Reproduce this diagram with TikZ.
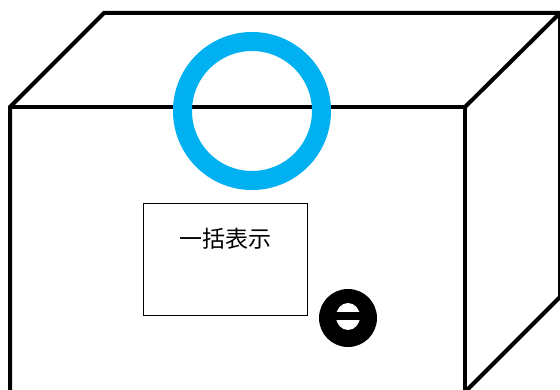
\documentclass[tikz,border=0pt]{standalone}
\usepackage{fontspec}
\newfontfamily\jpfont{Noto Sans CJK JP}
\definecolor{ringblue}{HTML}{00B0F0}
\begin{document}
\begin{tikzpicture}[x=1pt,y=-1pt,
  edge/.style={line width=4pt, line join=miter, draw=black},
  ring/.style={circle, draw=ringblue, line width=19pt, minimum size=139pt, inner sep=0pt},
  panel/.style={draw=black, line width=1pt, minimum width=164pt, minimum height=112pt, inner sep=0pt},
  caption/.style={font=\jpfont\fontsize{23}{28}\selectfont, inner sep=0pt},
  knob/.style={circle, fill=black, minimum size=58pt, inner sep=0pt}]
\useasboundingbox (0,0) rectangle (560,390);

% corners of the box (front face and back edges)
\coordinate (ftl) at (10,107);
\coordinate (ftr) at (465,107);
\coordinate (fbr) at (465,392);
\coordinate (fbl) at (10,392);
\coordinate (btl) at (104,13);
\coordinate (btr) at (560,13);
\coordinate (bbr) at (560,297);

% outline of the box
\draw[edge] (fbl) -- (ftl) -- (btl) -- (btr) -- (bbr) -- (fbr) -- cycle;
\draw[edge] (ftl) -- (ftr) -- (fbr);
\draw[edge] (ftr) -- (btr);

% blue ring on the top edge
\node[ring] (hole) at (252,111) {};

% display panel with its label
\node[panel, anchor=north west] (display) at (143,203) {};
\node[caption] (title) at (225,239) {一括表示};

% round switch
\node[knob] (switch) at (348,318) {};
\fill[white] (348,316.5) ellipse [x radius=12pt, y radius=13.5pt];
\fill[black] (335,312.5) rectangle (361,320.5);
\end{tikzpicture}
\end{document}
